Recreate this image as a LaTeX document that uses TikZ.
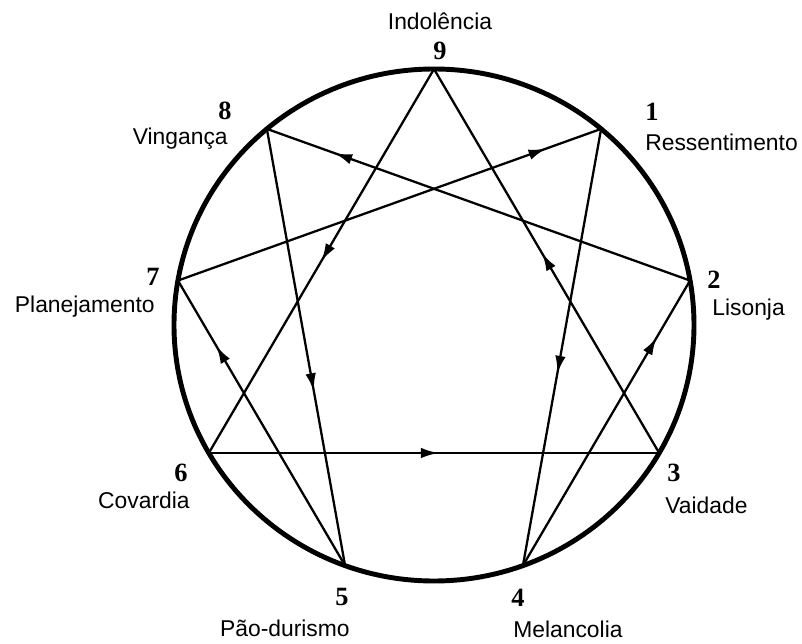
\documentclass[tikz,border=0pt]{standalone}
\usepackage{fontspec}
\setmainfont{Liberation Serif}
\newfontfamily\labelfont{Liberation Sans}
\usetikzlibrary{arrows.meta,decorations.markings,calc}

\tikzset{
  ring/.style={line width=2.8pt},
  chord/.style={line width=1.3pt},
  flow/.style={chord,decoration={markings,
      mark=at position #1 with {\arrow{Latex[length=10pt,width=6pt]}}},
    postaction={decorate}},
  num/.style={font=\fontsize{15}{17}\selectfont\bfseries},
  trait/.style={font=\labelfont\fontsize{13}{15}\selectfont,inner sep=0pt}
}

\begin{document}
\begin{tikzpicture}[>=Latex]
  \useasboundingbox (0,0) rectangle (16.04,12.86);
  % circle and the nine points on it
  \coordinate (c) at (8.68,6.36);
  \draw[ring] (c) ellipse [x radius=5.2, y radius=5.12];
  \foreach \n/\a in {9/90,1/50,2/10,3/-30,4/-70,5/-110,6/-150,7/170,8/130} {
    \path (c) ++(\a:5.2 and 5.12) coordinate (p\n);
  }
  % hexad 1-4-2-8-5-7-1
  \draw[flow=0.56] (p1) -- (p4);
  \draw[flow=0.80] (p4) -- (p2);
  \draw[flow=0.84] (p2) -- (p8);
  \draw[flow=0.60] (p8) -- (p5);
  \draw[flow=0.77] (p5) -- (p7);
  \draw[flow=0.87] (p7) -- (p1);
  % triangle 9-6-3
  \draw[flow=0.50] (p9) -- (p6);
  \draw[flow=0.51] (p6) -- (p3);
  \draw[flow=0.52] (p3) -- (p9);
  % numbers
  \node[num] (n9) at (8.80,11.84) {9};
  \node[num] (n1) at (13.04,10.62) {1};
  \node[num] (n2) at (14.28,7.26) {2};
  \node[num] (n3) at (13.48,3.40) {3};
  \node[num] (n4) at (10.36,0.90) {4};
  \node[num] (n5) at (6.84,0.92) {5};
  \node[num] (n6) at (3.62,3.40) {6};
  \node[num] (n7) at (3.06,7.32) {7};
  \node[num] (n8) at (4.50,10.64) {8};
  % traits
  \node[trait] (t9) at (8.80,12.44) {Indolência};
  \node[trait,anchor=west] (t1) at (12.90,10.02) {Ressentimento};
  \node[trait,anchor=west] (t2) at (14.24,6.66) {Lisonja};
  \node[trait,anchor=west] (t3) at (13.30,2.76) {Vaidade};
  \node[trait,anchor=west] (t4) at (10.26,0.28) {Melancolia};
  \node[trait,anchor=east] (t5) at (7.00,0.30) {Pão-durismo};
  \node[trait,anchor=east] (t6) at (3.80,2.86) {Covardia};
  \node[trait,anchor=east] (t7) at (3.10,6.72) {Planejamento};
  \node[trait,anchor=east] (t8) at (4.56,10.08) {Vingança};
\end{tikzpicture}
\end{document}
